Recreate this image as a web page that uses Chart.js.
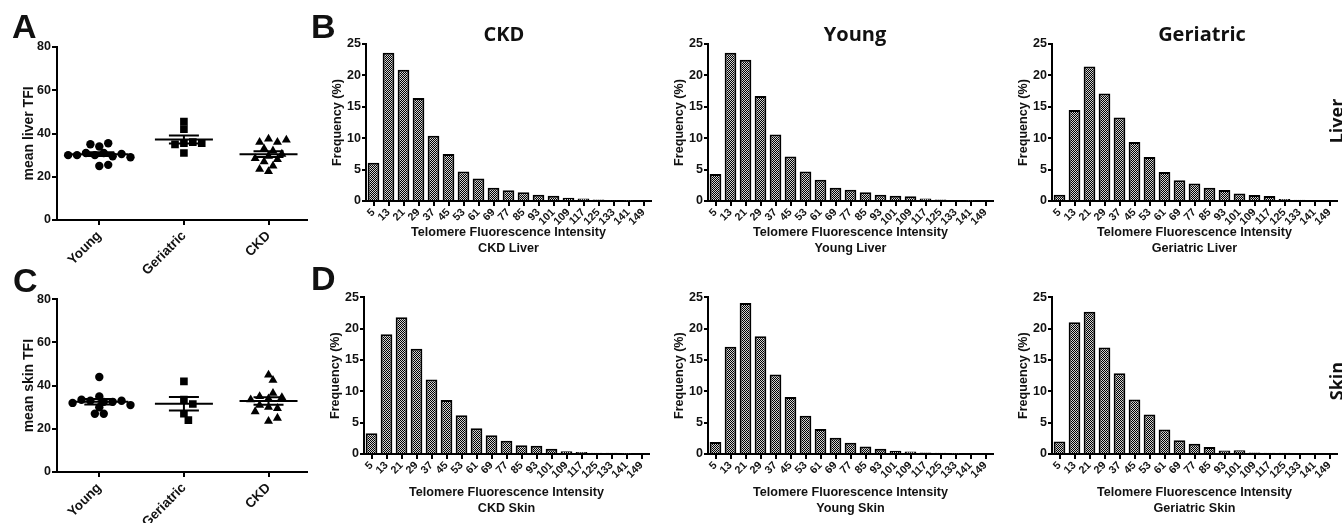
<!DOCTYPE html>
<html>
<head>
<meta charset="utf-8">
<script src="https://cdn.jsdelivr.net/npm/chart.js@4.4.0/dist/chart.umd.min.js"></script>
<style>
  body { margin: 0; background: #fff; }
  #fig { position: relative; width: 1342px; height: 523px; overflow: hidden; font-family: 'Liberation Sans', Arial, sans-serif; color: #111; }
  #fig canvas { position: absolute; }
  .letter { position: absolute; font-weight: bold; font-size: 34px; line-height: 1; }
  .title { position: absolute; top: 24px; font-family: 'Open Sans', sans-serif; font-weight: 700; font-size: 20px; line-height: 1; transform: translateX(-50%); white-space: nowrap; }
  .side { position: absolute; font-family: 'Open Sans', sans-serif; font-weight: 700; font-size: 18px; line-height: 1; transform: translate(-50%, -50%) rotate(-90deg); }
</style>
</head>
<body>
<div id="fig">
  <canvas id="tfiSkin" width="312" height="260" style="left:0;top:263px"></canvas>
  <canvas id="tfiLiver" width="312" height="276" style="left:0;top:0"></canvas>
  <canvas id="ckdLiver" width="344" height="263" style="left:309px;top:0"></canvas>
  <canvas id="youngLiver" width="344" height="263" style="left:651px;top:0"></canvas>
  <canvas id="geriatricLiver" width="344" height="263" style="left:995px;top:0"></canvas>
  <canvas id="ckdSkin" width="344" height="260" style="left:307px;top:263px"></canvas>
  <canvas id="youngSkin" width="344" height="260" style="left:651px;top:263px"></canvas>
  <canvas id="geriatricSkin" width="344" height="260" style="left:995px;top:263px"></canvas>

  <div class="letter" style="left:12px;top:9px">A</div>
  <div class="letter" style="left:311px;top:9px">B</div>
  <div class="letter" style="left:13px;top:263px">C</div>
  <div class="letter" style="left:311px;top:261px">D</div>
  <div class="title" style="left:504px">CKD</div>
  <div class="title" style="left:855px">Young</div>
  <div class="title" style="left:1202px">Geriatric</div>
  <div class="side" style="left:1336px;top:121px">Liver</div>
  <div class="side" style="left:1336px;top:381px">Skin</div>
</div>
<script>
// Groups for the scatter panels
const groupNames = ['Young', 'Geriatric', 'CKD'];

// Panel A: mean liver TFI per animal
const youngLiverTFI = [34, 35.5, 35, 31, 30, 29.5, 31, 30.5, 30, 29, 30, 25, 25.5];
const geriatricLiverTFI = [45.5, 42, 35.5, 36, 35, 35.5, 31];
const ckdLiverTFI = [37.5, 36, 36, 37, 29.5, 28, 27, 28.5, 25, 22.5, 23.5, 32, 30.5, 33];

// Panel C: mean skin TFI per animal
const youngSkinTFI = [44, 35, 32.5, 33, 32.5, 33.5, 33, 32, 30, 31, 27, 27];
const geriatricSkinTFI = [42, 33.5, 31.5, 27, 24];
const ckdSkinTFI = [45, 42.5, 34, 36.5, 35, 34.5, 30, 29.5, 31, 28, 23.5, 25, 33.5];

// Panels B and D: histogram bins (%)
const binLabels = ['5', '13', '21', '29', '37', '45', '53', '61', '69', '77', '85', '93', '101', '109', '117', '125', '133', '141', '149'];
const ckdLiverFreq = [6.1, 23.6, 20.9, 16.4, 10.4, 7.5, 4.7, 3.6, 2.1, 1.7, 1.4, 1.0, 0.85, 0.5, 0.4, 0.25, 0.1, 0.05, 0];
const youngLiverFreq = [4.3, 23.6, 22.5, 16.7, 10.6, 7.1, 4.7, 3.4, 2.1, 1.8, 1.4, 1.0, 0.85, 0.75, 0.4, 0.25, 0.15, 0.05, 0];
const geriatricLiverFreq = [1.0, 14.5, 21.4, 17.1, 13.3, 9.4, 7.0, 4.6, 3.3, 2.8, 2.1, 1.75, 1.2, 0.95, 0.8, 0.3, 0.2, 0, 0];
const ckdSkinFreq = [3.3, 19.1, 21.8, 16.8, 11.9, 8.6, 6.2, 4.1, 3.0, 2.1, 1.4, 1.3, 0.85, 0.45, 0.3, 0.2, 0.2, 0.05, 0];
const youngSkinFreq = [1.9, 17.1, 24.1, 18.8, 12.7, 9.1, 6.1, 4.0, 2.6, 1.8, 1.2, 0.85, 0.5, 0.4, 0.25, 0.2, 0.05, 0, 0];
const geriatricSkinFreq = [2.0, 21.0, 22.7, 17.0, 12.9, 8.7, 6.3, 3.9, 2.2, 1.65, 1.1, 0.55, 0.6, 0.25, 0.2, 0.2, 0.15, 0, 0];

const INK = '#111';
Chart.defaults.font.family = "'Liberation Sans', Arial, sans-serif";
Chart.defaults.font.weight = 'bold';
Chart.defaults.color = INK;

// checkered fill like the original bars
function checkerPattern() {
    const c = document.createElement('canvas');
    c.width = 2;
    c.height = 2;
    const g = c.getContext('2d');
    g.fillStyle = '#d2d2d2';
    g.fillRect(0, 0, 2, 2);
    g.fillStyle = '#000';
    g.fillRect(0, 0, 1, 1);
    g.fillRect(1, 1, 1, 1);
    return g.createPattern(c, 'repeat');
}
const barFill = checkerPattern();

const axisGrid = tickLength => ({ drawOnChartArea: false, color: '#000', lineWidth: 2, tickLength });
const axisBorder = { color: '#000', width: 2 };

function histogram(id, values, caption, padTop, xHeight) {
    new Chart(document.getElementById(id), {
        type: 'bar',
        data: {
            labels: binLabels,
            datasets: [{
                data: values,
                backgroundColor: barFill,
                borderColor: '#000',
                borderWidth: 2,
                barPercentage: 0.78,
                categoryPercentage: 1
            }]
        },
        options: {
            responsive: false,
            animation: false,
            layout: { padding: { top: padTop, right: 2, left: 0, bottom: 0 } },
            plugins: { legend: { display: false }, tooltip: { enabled: false } },
            scales: {
                x: {
                    offset: true,
                    grid: { ...axisGrid(5), offset: false },
                    border: axisBorder,
                    ticks: { autoSkip: false, minRotation: 45, maxRotation: 45, padding: 0, font: { size: 10.8 } },
                    title: {
                        display: true,
                        text: ['Telomere Fluorescence Intensity', caption],
                        font: { size: 12.6 },
                        padding: { top: 0, bottom: 7.4 }
                    },
                    afterFit: s => { s.height = xHeight; }
                },
                y: {
                    min: 0,
                    max: 25,
                    grid: axisGrid(4),
                    border: axisBorder,
                    ticks: { stepSize: 5, padding: 1, font: { size: 12.5 } },
                    title: { display: true, text: 'Frequency (%)', font: { size: 12.6 }, padding: { top: 21, bottom: 0 } },
                    afterFit: s => { s.width = 57; }
                }
            }
        }
    });
}

histogram('ckdLiver', ckdLiverFreq, 'CKD Liver', 44, 62);
histogram('youngLiver', youngLiverFreq, 'Young Liver', 44, 62);
histogram('geriatricLiver', geriatricLiverFreq, 'Geriatric Liver', 44, 62);
histogram('ckdSkin', ckdSkinFreq, 'CKD Skin', 34.3, 69);
histogram('youngSkin', youngSkinFreq, 'Young Skin', 34.3, 69);
histogram('geriatricSkin', geriatricSkinFreq, 'Geriatric Skin', 34.3, 69);

// spread points sideways so they don't sit on top of each other (rough px scale)
const PX_PER_X = 85.5, PX_PER_Y = 2.16, STEP = 4.5, MIN_DIST = 6.8;
function swarm(values, idx) {
    const placed = [];
    return values.map(v => {
        const y = v * PX_PER_Y;
        for (let k = 0; ; k++) {
            const dx = (k % 2 ? 1 : -1) * Math.ceil(k / 2) * STEP;
            if (placed.every(p => Math.hypot(p.dx - dx, p.y - y) >= MIN_DIST)) {
                placed.push({ dx, y });
                return { x: idx + 1 + dx / PX_PER_X, y: v };
            }
        }
    });
}

// mean line with SEM whiskers
const meanSem = {
    id: 'meanSem',
    afterDatasetsDraw(chart, args, opts) {
        const { ctx, scales: { x, y } } = chart;
        ctx.save();
        ctx.strokeStyle = '#000';
        ctx.lineWidth = 2;
        opts.groups.forEach((vals, i) => {
            const n = vals.length;
            const mean = vals.reduce((s, v) => s + v, 0) / n;
            const sd = Math.sqrt(vals.reduce((s, v) => s + (v - mean) ** 2, 0) / (n - 1));
            const sem = sd / Math.sqrt(n);
            const cx = x.getPixelForValue(i + 1);
            const yM = y.getPixelForValue(mean);
            const yHi = y.getPixelForValue(mean + sem);
            const yLo = y.getPixelForValue(mean - sem);
            ctx.beginPath();
            ctx.moveTo(cx - 29, yM); ctx.lineTo(cx + 29, yM);
            ctx.moveTo(cx - 15, yHi); ctx.lineTo(cx + 15, yHi);
            ctx.moveTo(cx - 15, yLo); ctx.lineTo(cx + 15, yLo);
            ctx.moveTo(cx, yHi); ctx.lineTo(cx, yLo);
            ctx.stroke();
        });
        ctx.restore();
    }
};

const markers = [
    { pointStyle: 'circle', pointRadius: 4.2 },
    { pointStyle: 'rect', pointRadius: 5.4 },
    { pointStyle: 'triangle', pointRadius: 5.2 }
];

function dotPlot(id, groups, yTitle, padTop, xHeight) {
    new Chart(document.getElementById(id), {
        type: 'scatter',
        data: {
            datasets: groups.map((vals, i) => ({
                data: swarm(vals, i),
                backgroundColor: '#000',
                borderWidth: 0,
                ...markers[i]
            }))
        },
        options: {
            responsive: false,
            animation: false,
            layout: { padding: { top: padTop, right: 2, left: 0, bottom: 0 } },
            plugins: { legend: { display: false }, tooltip: { enabled: false }, meanSem: { groups } },
            scales: {
                x: {
                    type: 'linear',
                    min: 0.5,
                    max: 3.45,
                    grid: axisGrid(5),
                    border: axisBorder,
                    afterBuildTicks: s => { s.ticks = groupNames.map((_, i) => ({ value: i + 1 })); },
                    ticks: {
                        autoSkip: false, minRotation: 45, maxRotation: 45, padding: 3,
                        font: { size: 13.5 },
                        callback: (v, i) => groupNames[i]
                    },
                    afterFit: s => { s.height = xHeight; }
                },
                y: {
                    min: 0,
                    max: 80,
                    grid: axisGrid(5),
                    border: axisBorder,
                    ticks: { stepSize: 20, padding: 1, font: { size: 12.5 } },
                    title: { display: true, text: yTitle, font: { size: 14 }, padding: { top: 20.6, bottom: 0 } },
                    afterFit: s => { s.width = 57; }
                }
            }
        },
        plugins: [meanSem]
    });
}

dotPlot('tfiLiver', [youngLiverTFI, geriatricLiverTFI, ckdLiverTFI], 'mean liver TFI', 47, 56);
dotPlot('tfiSkin', [youngSkinTFI, geriatricSkinTFI, ckdSkinTFI], 'mean skin TFI', 36.3, 51);
</script>
</body>
</html>
